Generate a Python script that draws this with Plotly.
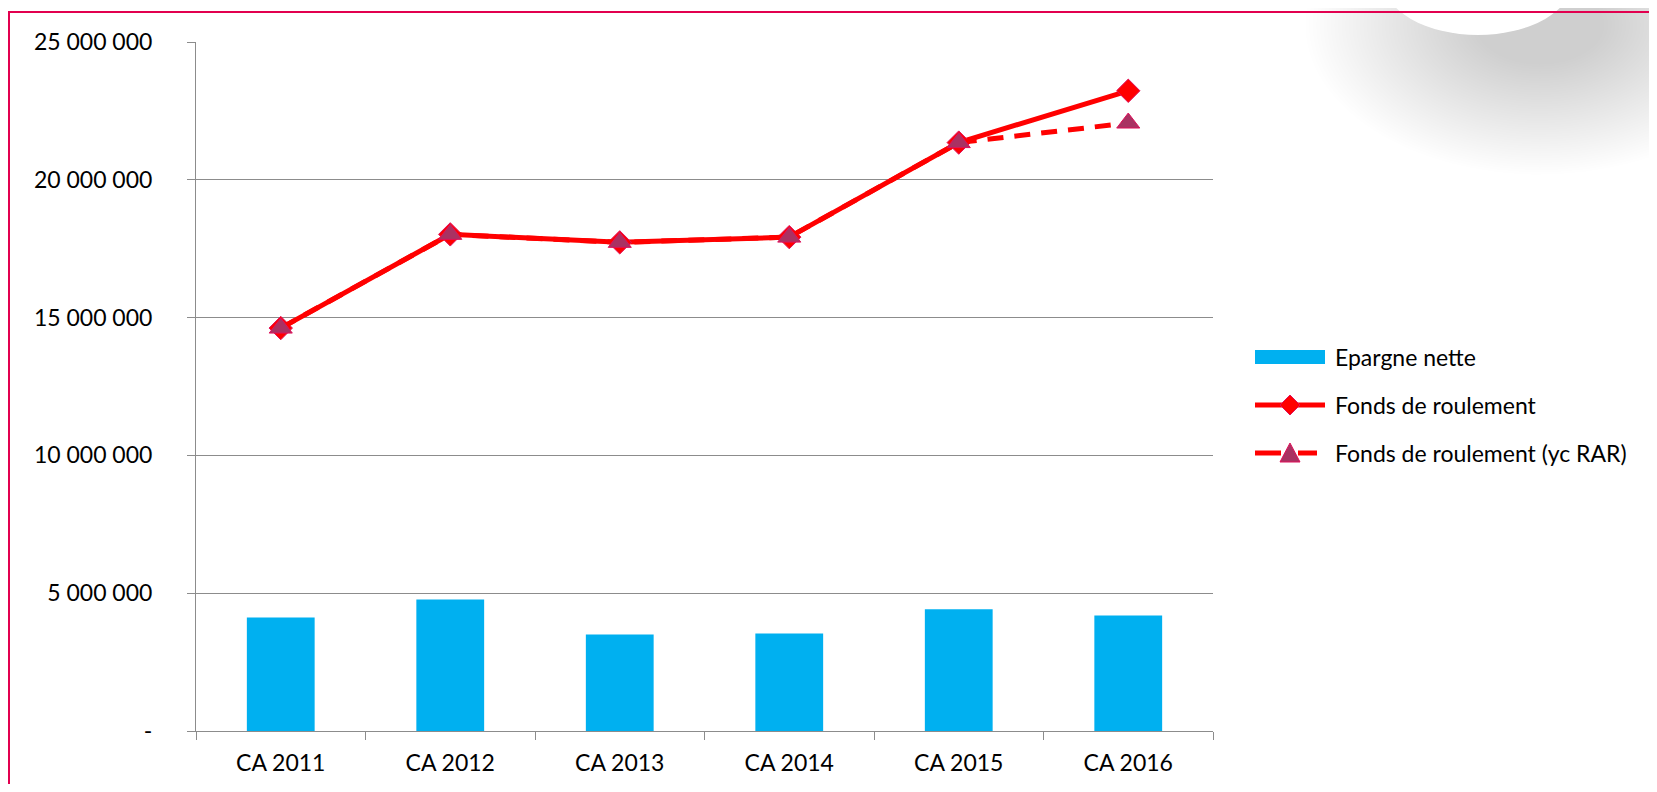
import plotly.graph_objects as go

categories = ["CA 2011", "CA 2012", "CA 2013", "CA 2014", "CA 2015", "CA 2016"]
epargne_nette = [4115000, 4770000, 3500000, 3540000, 4420000, 4190000]
fonds_roulement = [14620000, 18020000, 17730000, 17920000, 21350000, 23230000]
fonds_roulement_rar = [14620000, 18020000, 17730000, 17920000, 21350000, 22060000]
y_tickvals = [0, 5000000, 10000000, 15000000, 20000000, 25000000]
y_ticktext = ["-", "5 000 000", "10 000 000", "15 000 000", "20 000 000", "25 000 000"]
series_names = ["Epargne nette", "Fonds de roulement", "Fonds de roulement (yc RAR)"]

# page body has an 8px default margin: size the figure so it fits the window exactly
OFF = 8
W, H = 1657 - 2 * OFF, 792 - 2 * OFF
# plot area in screen pixels
SX0, SX1, SY0, SY1 = 196, 1213, 42, 731
L, T = SX0 - OFF, SY0 - OFF
R, B = W - (SX1 - OFF), H - (SY1 - OFF)
PW, PH = SX1 - SX0, SY1 - SY0

def px(x):
    return (x - SX0) / PW

def py(y):
    return (SY1 - y) / PH

def path(points):
    return "M " + " L ".join(f"{px(x):.5f},{py(y):.5f}" for x, y in points) + " Z"

FONT = "Lato, 'Open Sans', sans-serif"
GRID = "#8C8C8C"
BLUE = "#00B0F0"
RED = "#FF0000"
EDGE = "#E0105A"
MAROON = "#A93262"

fig = go.Figure()
fig.add_trace(go.Bar(
    x=categories, y=epargne_nette, name=series_names[0],
    marker=dict(color=BLUE, line=dict(width=0)),
))
fig.add_trace(go.Scatter(
    x=categories, y=fonds_roulement, name=series_names[1],
    mode="lines+markers",
    line=dict(color=RED, width=5),
    marker=dict(symbol="diamond", size=18, color=RED, line=dict(color=EDGE, width=1)),
))
fig.add_trace(go.Scatter(
    x=categories, y=fonds_roulement_rar, name=series_names[2],
    mode="lines+markers",
    line=dict(color=RED, width=5, dash="16px,11px"),
    marker=dict(symbol="triangle-up", size=20, color=MAROON, line=dict(color=EDGE, width=1)),
))

shapes = []
# decorative grey shadow (slide background) at top right
N = 48
for i in range(N):
    t = i / (N - 1)
    rx = 235 - 170 * t
    ry = 150 - 110 * t
    cx, cy = 1540, 25
    shapes.append(dict(type="circle", xref="paper", yref="paper", layer="below",
                       x0=px(cx - rx), x1=px(cx + rx), y0=py(cy + ry), y1=py(cy - ry),
                       fillcolor="black", opacity=0.0042, line=dict(width=0)))
# white bump
shapes.append(dict(type="circle", xref="paper", yref="paper", layer="below",
                   x0=px(1478 - 95), x1=px(1478 + 95), y0=py(35), y1=py(35 - 110),
                   fillcolor="white", line=dict(width=0)))
# pink frame
shapes.append(dict(type="rect", xref="paper", yref="paper", layer="below",
                   x0=px(9), x1=px(1700), y0=py(850), y1=py(12),
                   fillcolor="rgba(0,0,0,0)", line=dict(color="#E2004F", width=2)))

# custom legend
LX0, LX1, LXC, TX = 1255, 1325, 1290, 1333
ROWS = [357, 405, 453]
shapes.append(dict(type="rect", xref="paper", yref="paper",
                   x0=px(LX0), x1=px(LX1), y0=py(ROWS[0] + 7), y1=py(ROWS[0] - 7),
                   fillcolor=BLUE, line=dict(width=0)))
shapes.append(dict(type="line", xref="paper", yref="paper",
                   x0=px(LX0), x1=px(LX1), y0=py(ROWS[1]), y1=py(ROWS[1]),
                   line=dict(color=RED, width=5)))
d = 10
shapes.append(dict(type="path", xref="paper", yref="paper",
                   path=path([(LXC, ROWS[1] - d), (LXC + d, ROWS[1]), (LXC, ROWS[1] + d), (LXC - d, ROWS[1])]),
                   fillcolor=RED, line=dict(color=EDGE, width=1)))
for a, b in [(LX0, LX0 + 26), (LX1 - 27, LX1 - 8)]:
    shapes.append(dict(type="line", xref="paper", yref="paper",
                       x0=px(a), x1=px(b), y0=py(ROWS[2]), y1=py(ROWS[2]),
                       line=dict(color=RED, width=5)))
shapes.append(dict(type="path", xref="paper", yref="paper",
                   path=path([(LXC, ROWS[2] - 10), (LXC + 10, ROWS[2] + 9), (LXC - 10, ROWS[2] + 9)]),
                   fillcolor=MAROON, line=dict(color=EDGE, width=1)))

annotations = [
    dict(text=name, xref="paper", yref="paper", x=px(TX), y=py(yy),
         xanchor="left", yanchor="middle", showarrow=False,
         font=dict(family=FONT, size=23, color="black"))
    for name, yy in zip(series_names, ROWS)
]

fig.update_layout(
    width=W, height=H,
    margin=dict(l=L, r=R, t=T, b=B, pad=0),
    paper_bgcolor="white", plot_bgcolor="white",
    font=dict(family=FONT, size=23, color="black"),
    bargap=0.6,
    showlegend=False,
    shapes=shapes,
    annotations=annotations,
    xaxis=dict(
        type="category", showgrid=False, showline=True, linecolor=GRID, linewidth=1,
        ticks="outside", tickson="boundaries", ticklen=8, tickcolor=GRID,
        ticklabelstandoff=11, zeroline=False, automargin=False,
    ),
    yaxis=dict(
        range=[0, 25000000], tickvals=y_tickvals, ticktext=y_ticktext,
        showgrid=True, gridcolor=GRID, gridwidth=1,
        showline=True, linecolor=GRID, linewidth=1,
        ticks="outside", ticklen=8, tickcolor=GRID,
        ticklabelstandoff=30, zeroline=False, automargin=False,
    ),
)

fig.write_html("out.html")
